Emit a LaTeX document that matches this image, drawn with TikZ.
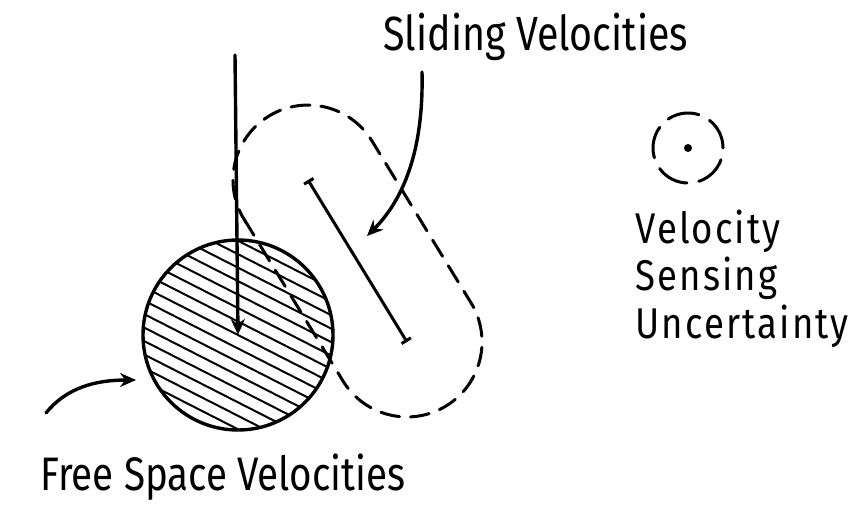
\documentclass[tikz,border=0pt]{standalone}
\usepackage{fontspec}
\newfontfamily\handfont[FakeStretch=0.82]{Fira Sans}
\newfontfamily\handwide[FakeStretch=0.85,LetterSpace=5]{Fira Sans}
\usetikzlibrary{arrows.meta,calc}

\begin{document}
\begin{tikzpicture}[>={Stealth[length=16pt,width=14pt]}, x=1pt, y=-1pt, line cap=round,
		thickline/.style={line width=3.4pt},
		loopdash/.style={line width=3pt, dash pattern=on 19pt off 11pt},
		hand/.style={anchor=base west, font=\handfont\fontsize{#1}{#1}\selectfont},
		handw/.style={anchor=base west, font=\handwide\fontsize{#1}{#1}\selectfont}]
	\useasboundingbox (0,0) rectangle (866,512);
	
	% Free space velocities: hatched disc
	\begin{scope}
		\clip (238,335) circle (95);
		\foreach \k in {-9,...,9}
			\draw[line width=2pt, shift={(238,335)}, rotate=-27] (-110,{12*\k}) -- (110,{12*\k});
	\end{scope}
	\node[circle, draw, thickline, minimum size=190pt, inner sep=0pt] (fsv) at (238,335) {};
	
	% Sliding velocities: segment and dashed loop around it
	\coordinate (segA) at (308,180);
	\coordinate (segB) at (407,342);
	\draw[{Bar[width=11pt]}-{Bar[width=11pt]}, line width=3pt] (segA) -- (segB);
	\draw[loopdash] ($(segA)+(-64,39)$) -- ($(segB)+(-64,39)$)
		arc[start angle=148.6, end angle=-31.4, radius=75]
		-- ($(segA)+(64,-39)$)
		arc[start angle=-31.4, end angle=-211.4, radius=75] -- cycle;
	
	% Commanded velocity
	\coordinate (vtop) at (235,55);
	\draw[->, thickline] (vtop) -- (fsv.center);
	
	% Velocity sensing uncertainty
	\draw[line width=3pt, dash pattern=on 32pt off 12pt, dash phase=32pt] (688,148) circle (35);
	\fill (688,148) circle (4);
	
	% Labels
	\node[hand=48] (sliding) at (380,50) {Sliding Velocities};
	\node[hand=47] (freespace) at (37,490) {Free Space Velocities};
	\node[handw=43] (velocity) at (632,243) {Velocity};
	\node[handw=43] (sensing) at (632,290) {Sensing};
	\node[handw=43] (uncertainty) at (632,338) {Uncertainty};
	
	% Label arrows
	\coordinate (slidefrom) at (422,72);
	\coordinate (slideto) at (367,236);
	\draw[->, thickline] (slidefrom) .. controls (424,160) and (398,205) .. (slideto);
	\coordinate (freefrom) at (46,413);
	\coordinate (freeto) at (136,380);
	\draw[->, thickline] (freefrom) .. controls (66,388) and (95,380) .. (freeto);
\end{tikzpicture}
\end{document}
